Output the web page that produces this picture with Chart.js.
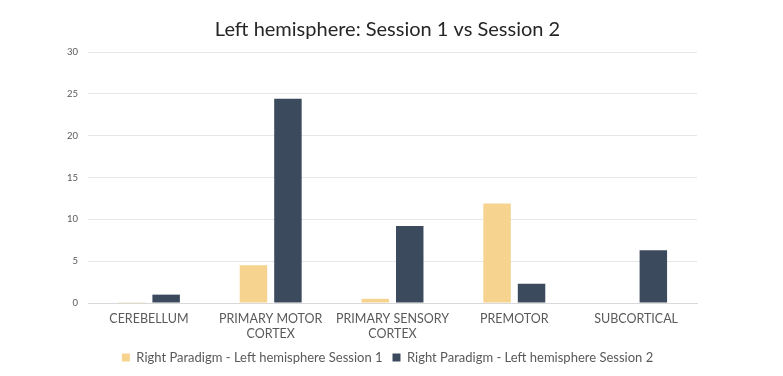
<!DOCTYPE html>
<html>
<head>
<meta charset="utf-8">
<script src="https://cdn.jsdelivr.net/npm/chart.js@4/dist/chart.umd.min.js"></script>
<style>
html,body{margin:0;padding:0;background:#fff;}
#wrap{width:783px;height:376px;position:relative;}
</style>
</head>
<body>
<div id="wrap"><canvas id="c" width="783" height="376"></canvas></div>
<script>
const categories = [["CEREBELLUM"], ["PRIMARY MOTOR", "CORTEX"], ["PRIMARY SENSORY", "CORTEX"], ["PREMOTOR"], ["SUBCORTICAL"]];
const session1 = [0.1, 4.5, 0.5, 11.9, 0];
const session2 = [1.0, 24.4, 9.2, 2.3, 6.3];
const seriesNames = ["Right Paradigm - Left hemisphere Session 1", "Right Paradigm - Left hemisphere Session 2"];
const titleText = "Left hemisphere: Session 1 vs Session 2";

const FONT = "Lato, 'Open Sans', sans-serif";

new Chart(document.getElementById('c'), {
  type: 'bar',
  data: {
    labels: categories,
    datasets: [
      { label: seriesNames[0], data: session1, backgroundColor: '#F6D38F', categoryPercentage: 0.566, barPercentage: 0.797 },
      { label: seriesNames[1], data: session2, backgroundColor: '#3C4A5D', categoryPercentage: 0.566, barPercentage: 0.797 }
    ]
  },
  options: {
    responsive: false,
    animation: false,
    layout: { padding: { top: 8, bottom: 2, left: 0, right: 8 } },
    plugins: {
      title: {
        display: true, text: titleText, color: '#262626',
        font: { family: FONT, size: 20, weight: 'normal' },
        padding: { top: 10, bottom: 10 }
      },
      legend: {
        position: 'bottom',
        labels: {
          boxWidth: 8, boxHeight: 8, color: '#595959', padding: 10,
          font: { family: FONT, size: 13 }
        }
      },
      tooltip: { enabled: false }
    },
    scales: {
      x: {
        grid: { display: false },
        border: { color: '#d9d9d9' },
        ticks: { color: '#595959', font: { family: FONT, size: 12.5, lineHeight: 1.2 }, maxRotation: 0, padding: 0 }
      },
      y: {
        min: 0, max: 30,
        ticks: { stepSize: 5, color: '#595959', font: { family: FONT, size: 9.5 }, padding: 10 },
        grid: { color: '#e6e6e6', drawTicks: false },
        border: { display: false },
        afterFit: s => { s.width = 88; }
      },
      yr: {
        position: 'right', display: true,
        grid: { display: false }, border: { display: false },
        ticks: { display: false },
        afterFit: s => { s.width = 78; }
      }
    }
  }
});
</script>
</body>
</html>
